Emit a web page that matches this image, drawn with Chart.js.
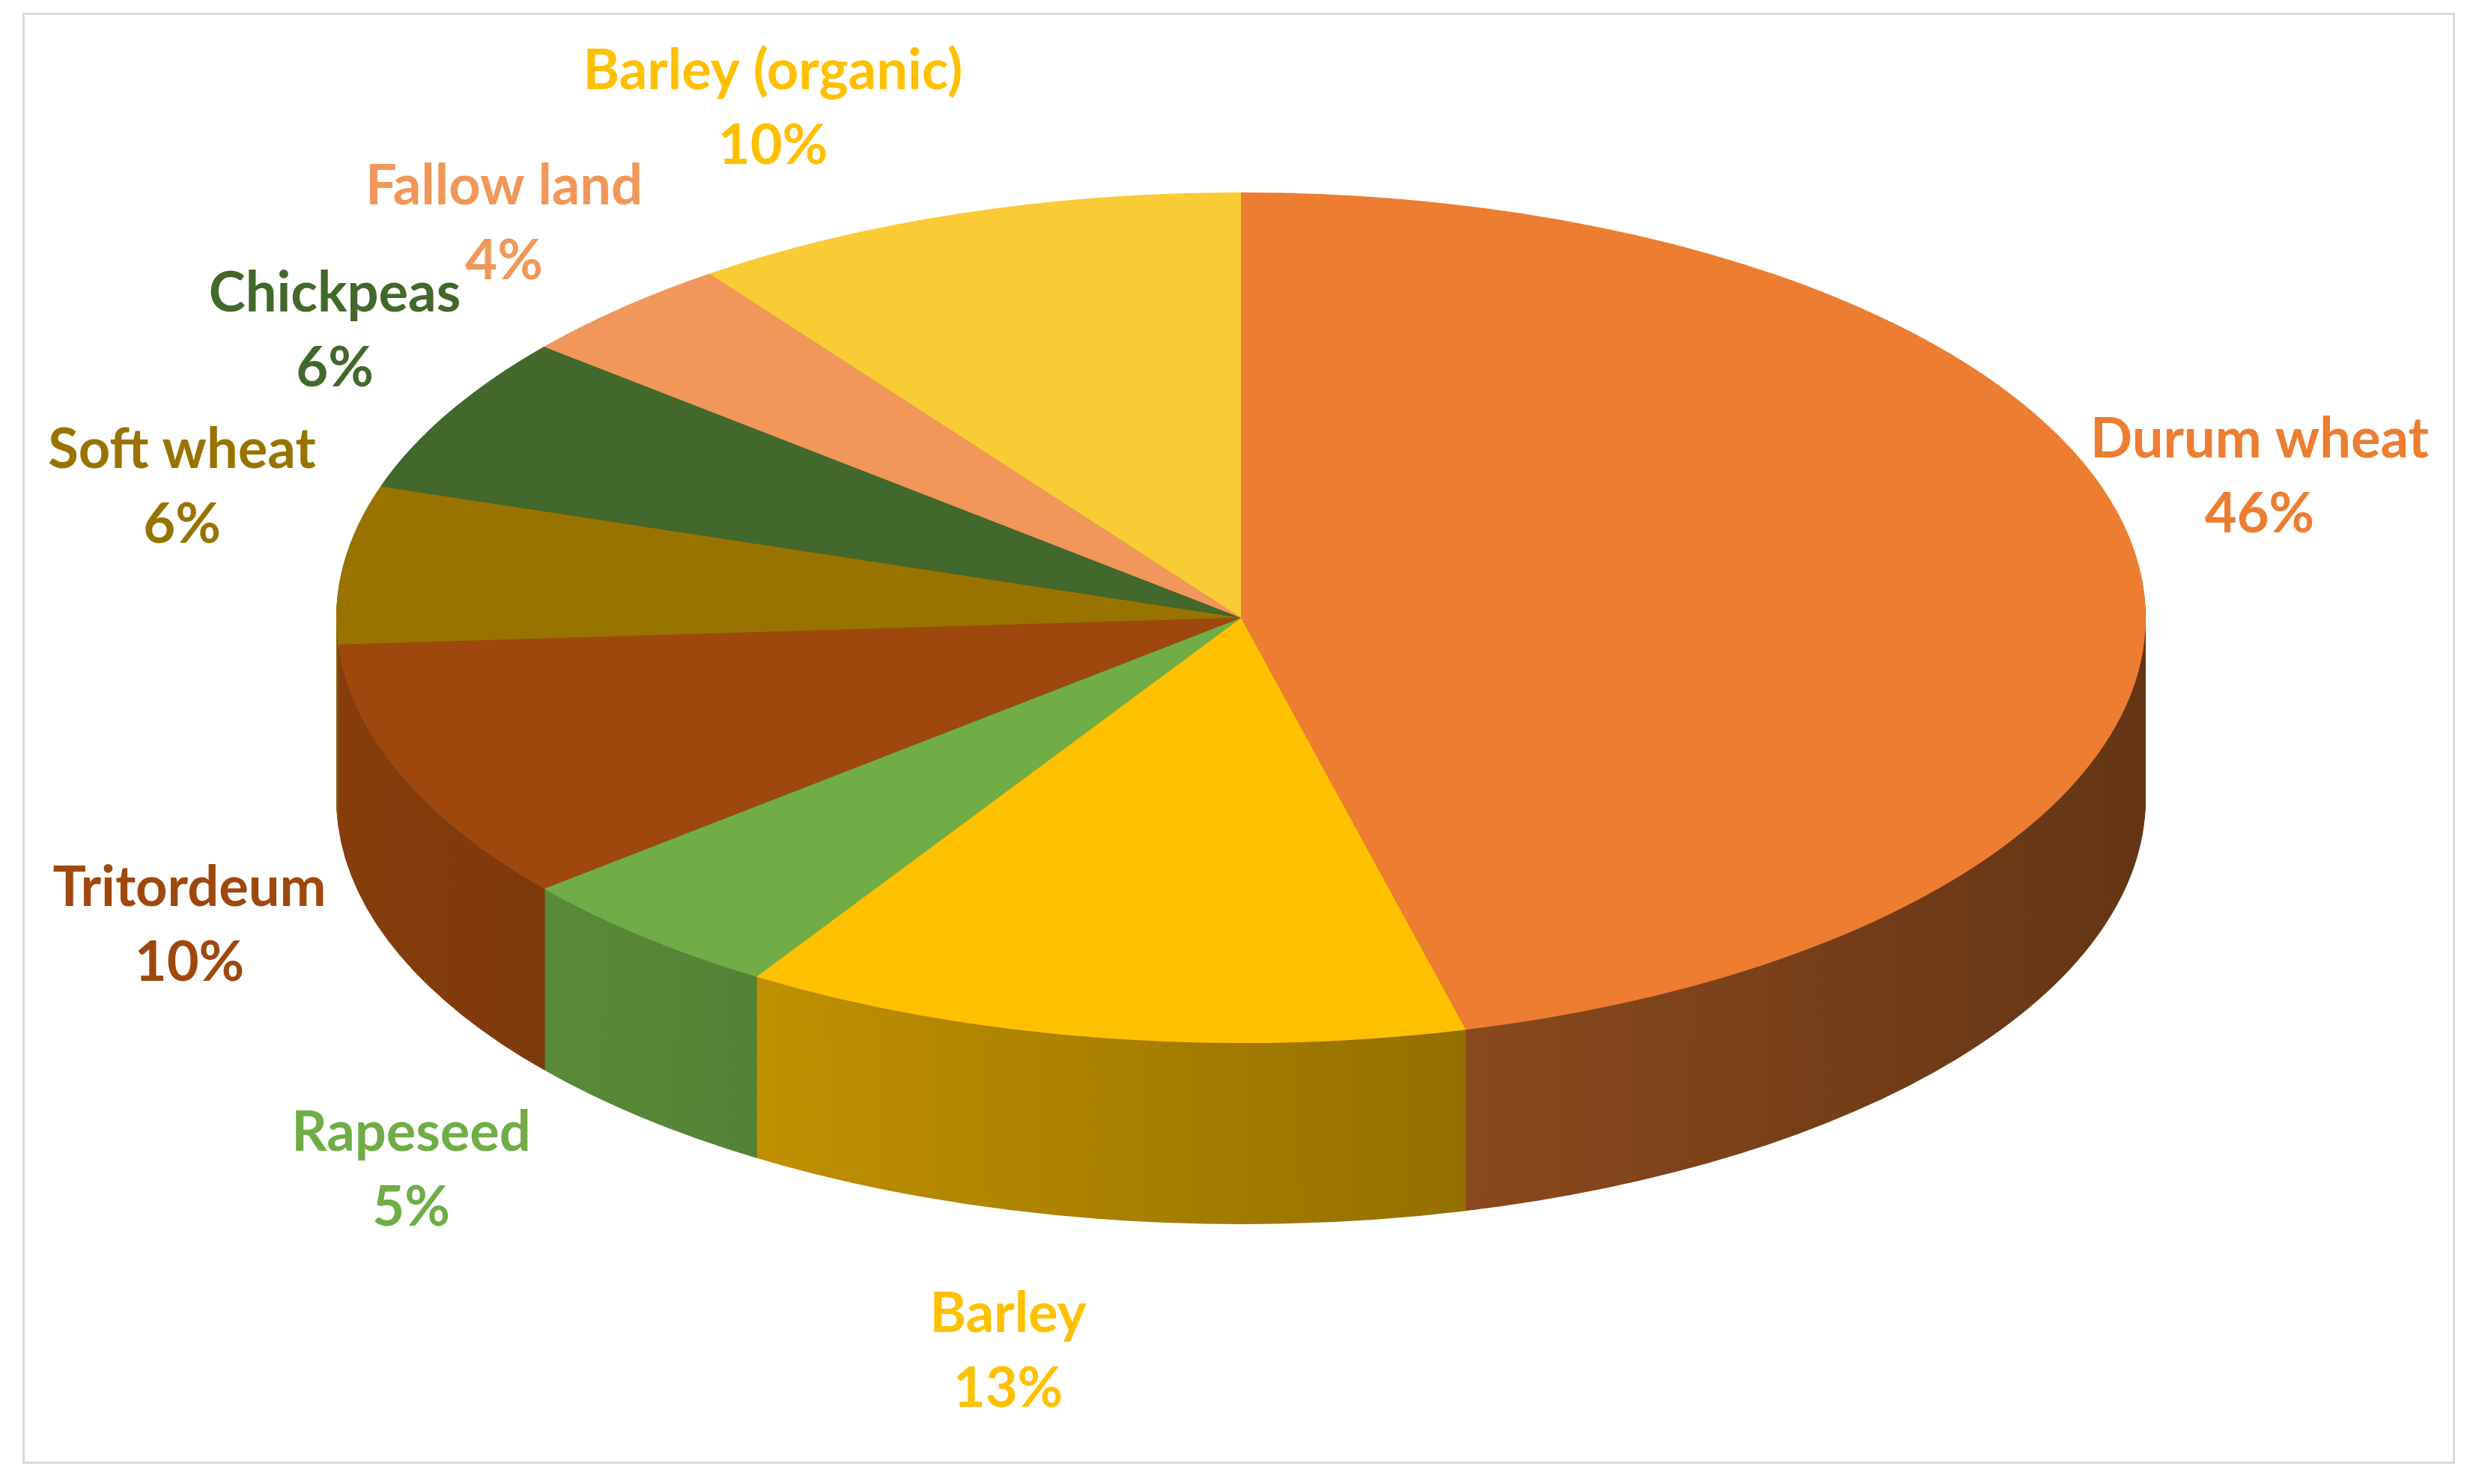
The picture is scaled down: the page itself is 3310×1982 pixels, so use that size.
<!DOCTYPE html>
<html><head><meta charset="utf-8">
<script src="https://cdn.jsdelivr.net/npm/chart.js@4"></script>
<style>
html,body{margin:0;padding:0;background:#fff;}
#wrap{position:absolute;left:0;top:0;width:3310px;height:1982px;}
#frame{position:absolute;left:30px;top:17px;width:3248px;height:1938px;border:3px solid #d9d9d9;box-sizing:border-box;pointer-events:none;}
</style></head><body>
<div id="wrap"><canvas id="c" width="3310" height="1982"></canvas><div id="frame"></div></div>
<script>
const categories = ["Durum wheat","Barley","Rapeseed","Tritordeum","Soft wheat","Chickpeas","Fallow land","Barley (organic)"];
const shares = [46,13,5,10,6,6,4,10];
const colors = ["#ED7D31","#FFC000","#70AD47","#9E480E","#997300","#43682B","#F1975A","#F9CB35"];
const labelColors = ["#ED7D31","#FFC000","#70AD47","#9E480E","#997300","#43682B","#F1975A","#FFC000"];

const geom = {cx:1657, cy:825, rx:1208, ry:568, depth:242};
const labelPos = [[3017,587],[1346,1755],[549,1513],[253,1186],[243,601],[447,392],[673,249],[1032,95]];

function shade(hex,f){
  const n=parseInt(hex.slice(1),16);
  const r=Math.round(((n>>16)&255)*f),g=Math.round(((n>>8)&255)*f),b=Math.round((n&255)*f);
  return `rgb(${r},${g},${b})`;
}
function applyT(ctx,arc,dy){
  ctx.translate(geom.cx, geom.cy+dy);
  ctx.scale(geom.rx/arc.outerRadius, geom.ry/arc.outerRadius);
  ctx.translate(-arc.x,-arc.y);
}
const pie3d = {
  id:'pie3d',
  beforeDatasetsDraw(chart){
    const ctx=chart.ctx, arcs=chart.getDatasetMeta(0).data;
    for(let dy=geom.depth; dy>0; dy-=2){
      arcs.forEach((a,i)=>{
        ctx.save(); applyT(ctx,a,dy);
        const grad=ctx.createLinearGradient(a.x-a.outerRadius,0,a.x+a.outerRadius,0);
        grad.addColorStop(0,shade(colors[i],0.85));
        grad.addColorStop(1,shade(colors[i],0.42));
        ctx.fillStyle=grad;
        ctx.beginPath(); ctx.moveTo(a.x,a.y);
        ctx.arc(a.x,a.y,a.outerRadius,a.startAngle,a.endAngle); ctx.closePath(); ctx.fill();
        ctx.restore();
      });
    }
    ctx.save(); applyT(ctx,arcs[0],0);
  },
  afterDatasetsDraw(chart){
    const ctx=chart.ctx; ctx.restore();
    ctx.save();
    ctx.font='bold 74px Lato, "Open Sans", sans-serif';
    ctx.textAlign='center'; ctx.textBaseline='middle';
    categories.forEach((c,i)=>{
      const [x,y]=labelPos[i];
      ctx.fillStyle=labelColors[i];
      ctx.fillText(c,x,y);
      ctx.fillText(shares[i]+'%',x,y+100);
    });
    ctx.restore();
  }
};
new Chart(document.getElementById('c'),{
  type:'pie',
  data:{labels:categories,datasets:[{data:shares,backgroundColor:colors,borderWidth:0,hoverOffset:0}]},
  options:{responsive:false,animation:false,events:[],
    plugins:{legend:{display:false},tooltip:{enabled:false}},
    layout:{padding:100}},
  plugins:[pie3d]
});
</script></body></html>
